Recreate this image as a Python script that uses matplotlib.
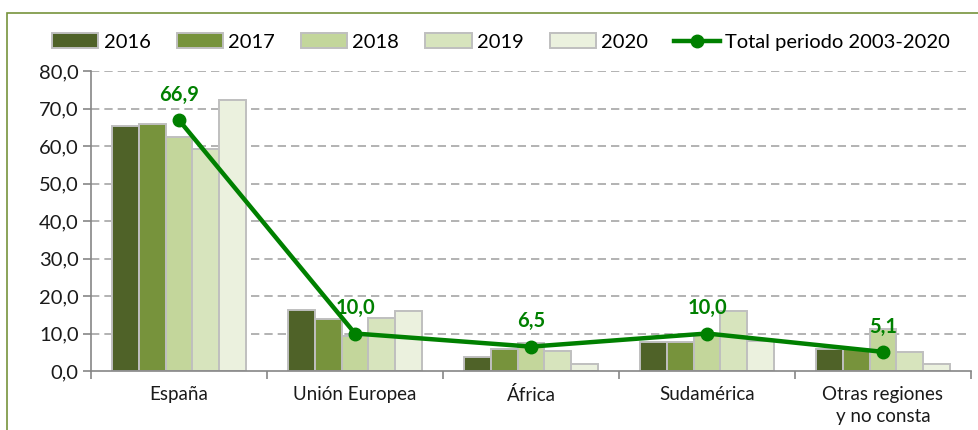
import matplotlib.pyplot as plt
import numpy as np
from matplotlib.patches import Rectangle

plt.rcParams["font.family"] = ["Lato", "DejaVu Sans"]

# Data
regions = ["España", "Unión Europea", "África", "Sudamérica", "Otras regiones\ny no consta"]
years = ["2016", "2017", "2018", "2019", "2020"]
values_2016 = [65.4, 16.2, 3.7, 7.8, 5.8]
values_2017 = [66.0, 13.9, 5.8, 7.8, 5.8]
values_2018 = [62.4, 9.4, 7.6, 9.6, 11.2]
values_2019 = [59.1, 14.2, 5.3, 16.0, 5.1]
values_2020 = [72.3, 16.0, 1.9, 7.9, 1.9]
total_label = "Total periodo 2003-2020"
total_values = [66.9, 10.0, 6.5, 10.0, 5.1]

series = [values_2016, values_2017, values_2018, values_2019, values_2020]
colors = ["#4F6228", "#77933C", "#C3D69B", "#D7E4BD", "#EBF1DE"]
line_color = "#008000"
axis_color = "#868686"
text_color = "#1A1A1A"

fig = plt.figure(figsize=(9.79, 4.30), dpi=100)
ax = fig.add_axes([91 / 979, 1 - 371 / 430, 880 / 979, 300 / 430])

x = np.arange(len(regions))
bar_w = 0.153
offsets = (np.arange(len(years)) - 2) * bar_w
bar_handles = []
for vals, year, col, off in zip(series, years, colors, offsets):
    h = ax.bar(x + off, vals, width=bar_w, color=col, edgecolor="#BFBFBF",
               linewidth=1.4, label=year, zorder=2)
    bar_handles.append(h)

line, = ax.plot(x, total_values, color=line_color, linewidth=3.2, marker="o",
                markersize=9, label=total_label, zorder=3)
for xi, v in zip(x, total_values):
    ax.annotate(f"{v:.1f}".replace(".", ","), (xi, v), xytext=(0, 11),
                textcoords="offset points", ha="center", va="bottom",
                color=line_color, fontsize=14.5, fontweight="bold")

ax.set_xlim(-0.5, len(regions) - 0.5)
ax.set_ylim(0, 80)
ticks = np.arange(0, 81, 10)
ax.set_yticks(ticks)
ax.set_yticklabels([f"{t:.1f}".replace(".", ",") for t in ticks],
                   fontsize=14.5, color=text_color)
for t in ticks[1:]:
    ax.axhline(t, color="#A6A6A6", linewidth=1.2, linestyle=(0, (5, 3)), zorder=1)

ax.set_xticks(np.arange(-0.5, len(regions), 1.0))
ax.set_xticklabels([])
ax.set_xticks(x, minor=True)
ax.set_xticklabels(regions, minor=True, fontsize=13.5, color=text_color,
                   linespacing=1.35, va="top")
ax.tick_params(axis="x", which="minor", length=0, pad=11)
ax.tick_params(axis="x", which="major", length=6, color=axis_color, width=1.2)
ax.tick_params(axis="y", length=6, color=axis_color, width=1.2, pad=3)

for side in ["top", "right"]:
    ax.spines[side].set_visible(False)
for side in ["left", "bottom"]:
    ax.spines[side].set_color(axis_color)
    ax.spines[side].set_linewidth(1.2)

fig.legend(bar_handles + [line], years + [total_label], loc="center",
           bbox_to_anchor=(0.512, 1 - 42 / 430), ncol=6, frameon=False,
           fontsize=14.5, handlelength=2.3, handleheight=0.7,
           handletextpad=0.25, columnspacing=1.3)

# outer border of the chart area
fig.patches.append(Rectangle((7 / 979, -0.05), 1.1, 1 - 13 / 430 + 0.05,
                             transform=fig.transFigure, fill=False,
                             edgecolor="#77933C", linewidth=1.2))

fig.savefig("out.png", dpi=100)
